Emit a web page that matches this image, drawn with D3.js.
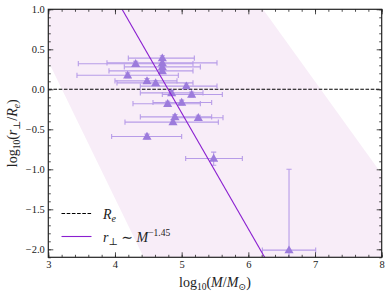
<!DOCTYPE html>
<html>
<head>
<meta charset="utf-8">
<script src="https://cdn.jsdelivr.net/npm/d3@7"></script>
<style>
  html, body { margin: 0; padding: 0; background: #fff; }
  svg { display: block; }
  text { font-family: "Liberation Serif", "DejaVu Serif", serif; fill: #222; }
</style>
</head>
<body>
<svg id="chart" width="390" height="294"></svg>
<script>
// ---- data ----
const logM   = [4.31, 4.71, 4.71, 4.71, 4.71, 4.19, 4.48, 4.61, 5.07, 4.85, 5.15, 4.79, 5.00, 4.90, 4.87, 5.25, 4.48, 5.48, 6.61];
const logR   = [0.32, 0.39, 0.33, 0.28, 0.23, 0.175, 0.105, 0.08, 0.04, -0.045, -0.065, -0.18, -0.165, -0.345, -0.41, -0.355, -0.59, -0.865, -2.01];
const logMlo = [3.45, 4.20, 3.88, 4.14, 3.91, 3.43, 4.00, 4.03, 4.38, 4.38, 4.71, 4.27, 4.57, 4.38, 4.15, 4.87, 3.95, 5.06, 6.21];
const logMhi = [5.17, 5.19, 5.53, 5.28, 5.17, 4.95, 4.93, 5.17, 5.53, 5.32, 5.61, 5.28, 5.45, 5.45, 5.55, 5.62, 5.00, 5.91, 7.01];
const logRlo = [0.29, 0.36, 0.30, 0.25, 0.20, 0.145, 0.075, 0.05, 0.01, -0.075, -0.095, -0.21, -0.195, -0.375, -0.44, -0.385, -0.62, -0.95, -3.0];
const logRhi = [0.35, 0.42, 0.36, 0.31, 0.26, 0.205, 0.135, 0.11, 0.07, -0.015, -0.035, -0.15, -0.135, -0.315, -0.38, -0.325, -0.56, -0.785, -1.0];

const fitSlope = -1.45;
const fitIntercept = 6.955;
const bandPoly = [[3, 1.0], [6.22, 1.0], [8, -1.06], [8, -2.1], [4.43, -2.1], [3, 0.35]];

const xTicks = [3, 4, 5, 6, 7, 8];
const yTicks = [-2.0, -1.5, -1.0, -0.5, 0.0, 0.5, 1.0];
const xDomain = [3, 8];
const yDomain = [-2.1, 1.0];

// ---- layout ----
const W = 390, H = 294;
const m = { left: 48.3, right: 8.3, top: 9.3, bottom: 36.7 };
const svg = d3.select("#chart");
const x = d3.scaleLinear().domain(xDomain).range([m.left, W - m.right]);
const y = d3.scaleLinear().domain(yDomain).range([H - m.bottom, m.top]);

svg.append("defs").append("clipPath").attr("id", "clip")
  .append("rect").attr("x", m.left).attr("y", m.top)
  .attr("width", W - m.left - m.right).attr("height", H - m.top - m.bottom);

const plot = svg.append("g").attr("clip-path", "url(#clip)");

// shaded band
plot.append("path")
  .attr("d", d3.line().x(d => x(d[0])).y(d => y(d[1]))(bandPoly) + "Z")
  .attr("fill", "#f8edf8");

// dashed Re line
plot.append("line")
  .attr("x1", x(xDomain[0])).attr("x2", x(xDomain[1]))
  .attr("y1", y(0)).attr("y2", y(0))
  .attr("stroke", "#000").attr("stroke-width", 1.1)
  .attr("stroke-dasharray", "3.6,1.6");

// error bars
const ebColor = "#b79ce8";
const eb = plot.append("g").attr("stroke", ebColor).attr("stroke-width", 1.1).attr("fill", "none");
const cap = 2.6;
logM.forEach((mv, i) => {
  const cy = y(logR[i]), cx = x(mv);
  eb.append("line").attr("x1", x(logMlo[i])).attr("x2", x(logMhi[i])).attr("y1", cy).attr("y2", cy);
  eb.append("line").attr("x1", x(logMlo[i])).attr("x2", x(logMlo[i])).attr("y1", cy - cap).attr("y2", cy + cap);
  eb.append("line").attr("x1", x(logMhi[i])).attr("x2", x(logMhi[i])).attr("y1", cy - cap).attr("y2", cy + cap);
  eb.append("line").attr("x1", cx).attr("x2", cx).attr("y1", y(logRlo[i])).attr("y2", y(logRhi[i]));
  eb.append("line").attr("x1", cx - cap).attr("x2", cx + cap).attr("y1", y(logRhi[i])).attr("y2", y(logRhi[i]));
  eb.append("line").attr("x1", cx - cap).attr("x2", cx + cap).attr("y1", y(logRlo[i])).attr("y2", y(logRlo[i]));
});

// triangles
const tri = d3.symbol().type(d3.symbolTriangle).size(36);
plot.append("g").selectAll("path").data(logM).join("path")
  .attr("d", tri)
  .attr("transform", (d, i) => `translate(${x(d)},${y(logR[i]) + 0.6})`)
  .attr("fill", "#9c7bdc");

// fit line
const fx0 = 3, fx1 = 8;
plot.append("line")
  .attr("x1", x(fx0)).attr("y1", y(fitIntercept + fitSlope * fx0))
  .attr("x2", x(fx1)).attr("y2", y(fitIntercept + fitSlope * fx1))
  .attr("stroke", "#8a1fd0").attr("stroke-width", 1.1);

// ---- axes ----
const tickFmt = d => (d < 0 ? "\u2212" : "") + Math.abs(d).toFixed(1);
const xMinor = d3.range(3, 8.001, 0.2);
const yMinor = d3.range(-2.1, 1.001, 0.1);

function styleAxis(g) {
  g.select(".domain").remove();
  g.selectAll("line").attr("stroke", "#222").attr("stroke-width", 0.8);
  g.selectAll("text").style("font-size", "10.5px");
}
// bottom
svg.append("g").attr("transform", `translate(0,${H - m.bottom})`)
  .call(d3.axisBottom(x).tickValues(xMinor).tickSize(-2.5).tickFormat("")).call(styleAxis);
svg.append("g").attr("transform", `translate(0,${H - m.bottom})`)
  .call(d3.axisBottom(x).tickValues(xTicks).tickSize(-5).tickPadding(3.5).tickFormat(d3.format("d"))).call(styleAxis);
// top
svg.append("g").attr("transform", `translate(0,${m.top})`)
  .call(d3.axisTop(x).tickValues(xMinor).tickSize(-2.5).tickFormat("")).call(styleAxis);
svg.append("g").attr("transform", `translate(0,${m.top})`)
  .call(d3.axisTop(x).tickValues(xTicks).tickSize(-5).tickFormat("")).call(styleAxis);
// left
svg.append("g").attr("transform", `translate(${m.left},0)`)
  .call(d3.axisLeft(y).tickValues(yMinor).tickSize(-2.5).tickFormat("")).call(styleAxis);
svg.append("g").attr("transform", `translate(${m.left},0)`)
  .call(d3.axisLeft(y).tickValues(yTicks).tickSize(-5).tickPadding(3.5).tickFormat(tickFmt)).call(styleAxis);
// right
svg.append("g").attr("transform", `translate(${W - m.right},0)`)
  .call(d3.axisRight(y).tickValues(yMinor).tickSize(-2.5).tickFormat("")).call(styleAxis);
svg.append("g").attr("transform", `translate(${W - m.right},0)`)
  .call(d3.axisRight(y).tickValues(yTicks).tickSize(-5).tickFormat("")).call(styleAxis);

// frame
svg.append("rect").attr("x", m.left).attr("y", m.top)
  .attr("width", W - m.left - m.right).attr("height", H - m.top - m.bottom)
  .attr("fill", "none").attr("stroke", "#222").attr("stroke-width", 1.2);

// ---- axis labels ----
const xl = svg.append("text").attr("x", (m.left + W - m.right) / 2).attr("y", 287)
  .attr("text-anchor", "middle").style("font-size", "14px");
xl.append("tspan").text("log");
xl.append("tspan").attr("dy", 3).style("font-size", "9.5px").text("10");
xl.append("tspan").attr("dy", -3).text("(");
xl.append("tspan").style("font-style", "italic").text("M");
xl.append("tspan").text("/");
xl.append("tspan").style("font-style", "italic").text("M");
xl.append("tspan").attr("dy", 3).style("font-size", "9.5px").text("\u2299");
xl.append("tspan").attr("dy", -3).text(")");

const yl = svg.append("text")
  .attr("transform", `translate(17,${(m.top + H - m.bottom) / 2}) rotate(-90)`)
  .attr("text-anchor", "middle").style("font-size", "14px");
yl.append("tspan").text("log");
yl.append("tspan").attr("dy", 3).style("font-size", "9.5px").text("10");
yl.append("tspan").attr("dy", -3).text("(");
yl.append("tspan").style("font-style", "italic").text("r");
yl.append("tspan").attr("dy", 3).style("font-size", "9.5px").text("\u22A5");
yl.append("tspan").attr("dy", -3).text("/");
yl.append("tspan").style("font-style", "italic").text("R");
yl.append("tspan").attr("dy", 3).style("font-size", "9.5px").style("font-style", "italic").text("e");
yl.append("tspan").attr("dy", -3).text(")");

// ---- legend ----
const lg = svg.append("g");
lg.append("line").attr("x1", 61.5).attr("x2", 91.5).attr("y1", 213.5).attr("y2", 213.5)
  .attr("stroke", "#000").attr("stroke-width", 1.1).attr("stroke-dasharray", "3.6,1.6");
const t1 = lg.append("text").attr("x", 103).attr("y", 218.5).style("font-size", "14px");
t1.append("tspan").style("font-style", "italic").text("R");
t1.append("tspan").attr("dy", 3).style("font-size", "10px").style("font-style", "italic").text("e");

lg.append("line").attr("x1", 61.5).attr("x2", 91.5).attr("y1", 236.5).attr("y2", 236.5)
  .attr("stroke", "#8a1fd0").attr("stroke-width", 1.1);
const t2 = lg.append("text").attr("x", 103).attr("y", 241.5).style("font-size", "14px");
t2.append("tspan").style("font-style", "italic").text("r");
t2.append("tspan").attr("dy", 3).style("font-size", "10px").text("\u22A5");
t2.append("tspan").attr("dy", -3).text(" \u223C ");
t2.append("tspan").style("font-style", "italic").text("M");
t2.append("tspan").attr("dy", -6).style("font-size", "9.5px").text("\u22121.45");
</script>
</body>
</html>
